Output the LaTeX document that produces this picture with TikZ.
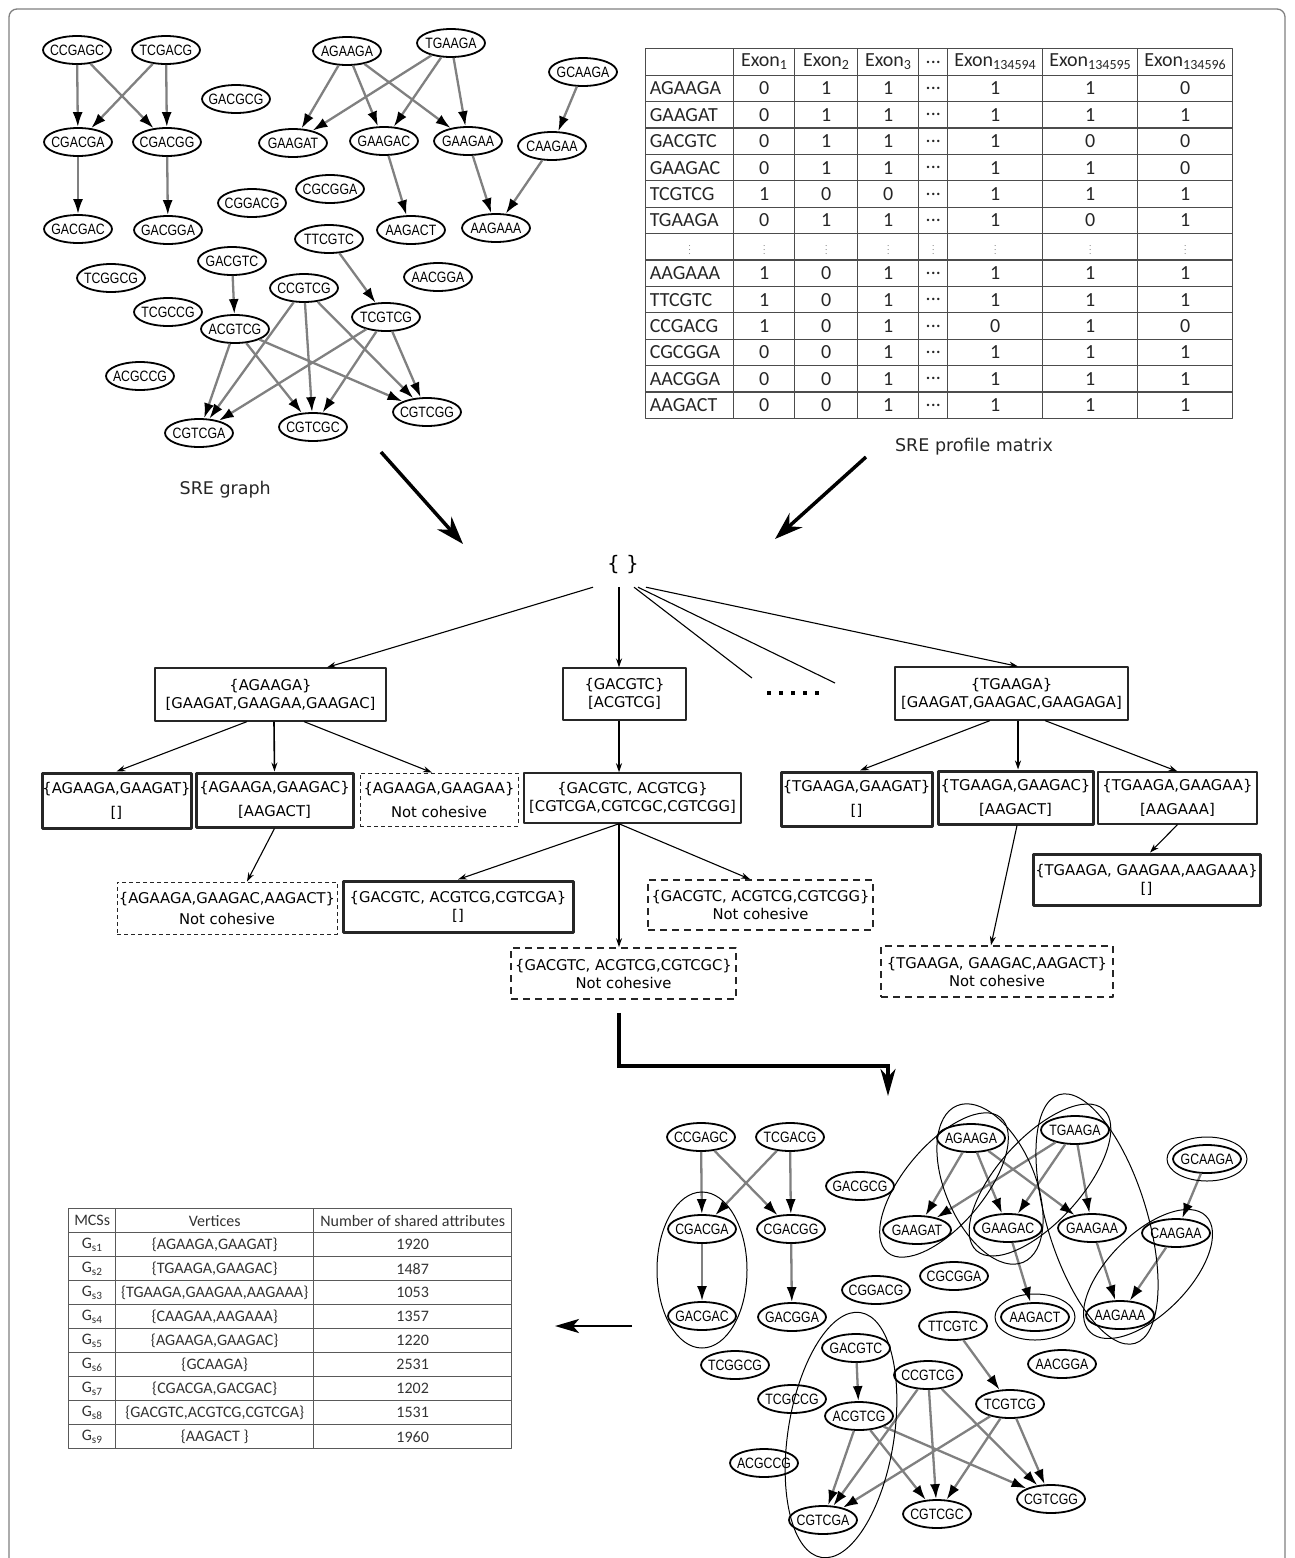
\documentclass[tikz,border=0pt]{standalone}
\usepackage{fontspec}
\setmainfont{DejaVu Sans}
\newfontfamily\grfont[FakeStretch=0.82]{Liberation Sans}
\newfontfamily\tabfont{Carlito}
\usetikzlibrary{arrows.meta,matrix,shapes.geometric}
\newcommand\vd{{\scriptsize$\vdots$}}

\begin{document}
\begin{tikzpicture}[x=1pt, y=-1pt, line join=round, >=Stealth,
  font=\fontsize{14.8}{18}\selectfont,
  sre/.style={draw, ellipse, line width=1.8, inner xsep=-6pt, inner ysep=0pt, minimum width=68, minimum height=28, font=\grfont\fontsize{15}{15}\selectfont},
  sreedge/.style={draw=gray, line width=2.3, -{Latex[length=15pt,width=10pt,color=black]}},
  clus/.style={draw, line width=1},
  tbox/.style={draw=black!85, line width=1.2, align=center, inner sep=0pt},
  mcsbox/.style={tbox, line width=3},
  nocoh/.style={tbox, line width=0.9, dash pattern=on 4pt off 3pt},
  nocohb/.style={tbox, line width=1.7, dash pattern=on 7pt off 5pt},
  tarr/.style={line width=1.1, -{Stealth[length=9pt,width=6pt]}},
  bigarr/.style={line width=3.5, -{Stealth[length=28pt,width=19pt,inset=9pt]}},
  lbl/.style={font=\fontsize{17.5}{20}\selectfont, text=black!85, inner sep=0pt}]
\useasboundingbox (0,0) rectangle (1294,1558);
\clip (0,0) rectangle (1294,1558);
\draw[gray, line width=1.3, rounded corners=8] (9,9) rectangle (1285,1590);

% SRE graph, drawn twice (input and result)
\foreach \pre/\dx/\dy in {a/0/0,b/624/1087}{
\begin{scope}[shift={(\dx,\dy)}, name prefix=\pre-]
\foreach \nm/\px/\py in {CCGAGC/77/50, TCGACG/166/50, AGAAGA/347/51, TGAAGA/451/43,
  GCAAGA/583/72, GACGCG/236/99, CGACGA/78/142, CGACGG/167/142, GAAGAT/293/143,
  GAAGAC/384/141, GAAGAA/468/141, CAAGAA/552/146, CGCGGA/330/189, CGGACG/252/203,
  GACGAC/78/229, GACGGA/168/230, AAGACT/411/230, AAGAAA/496/228, TTCGTC/329/239,
  GACGTC/232/261, AACGGA/438/277, TCGGCG/111/278, CCGTCG/304/288, TCGCCG/168/312,
  TCGTCG/386/317, ACGTCG/235/329, ACGCCG/140/376, CGTCGG/427/412, CGTCGC/313/427,
  CGTCGA/199/433}
  \node[sre] (\nm) at (\px,\py) {\nm};
\foreach \ea/\eb in {CCGAGC/CGACGA, CCGAGC/CGACGG, TCGACG/CGACGA, TCGACG/CGACGG,
  CGACGA/GACGAC, CGACGG/GACGGA, AGAAGA/GAAGAT, AGAAGA/GAAGAC, AGAAGA/GAAGAA,
  TGAAGA/GAAGAT, TGAAGA/GAAGAC, TGAAGA/GAAGAA, GAAGAC/AAGACT, GAAGAA/AAGAAA,
  GCAAGA/CAAGAA, CAAGAA/AAGAAA, TTCGTC/TCGTCG, GACGTC/ACGTCG,
  ACGTCG/CGTCGA, ACGTCG/CGTCGC, ACGTCG/CGTCGG, CCGTCG/CGTCGA, CCGTCG/CGTCGC,
  CCGTCG/CGTCGG, TCGTCG/CGTCGA, TCGTCG/CGTCGC, TCGTCG/CGTCGG}
  \draw[sreedge] (\ea) -- (\eb);
\end{scope}
}
\node[lbl, anchor=east] (grlbl) at (271,490) {SRE graph};

% maximal cohesive subgraphs
\draw[clus] (702,1270) ellipse [x radius=45pt, y radius=78pt];
\draw[clus] (1207,1159) ellipse [x radius=40pt, y radius=22pt];
\draw[clus] (1035,1317) ellipse [x radius=40pt, y radius=23pt];
\draw[clus, shift={(841,1435)}, rotate=81] (0,0) ellipse [x radius=124pt, y radius=53pt];
\draw[clus, shift={(990,1184)}, rotate=-67] (0,0) ellipse [x radius=85pt, y radius=45pt];
\draw[clus, shift={(944,1185)}, rotate=50] (0,0) ellipse [x radius=88pt, y radius=40pt];
\draw[clus, shift={(1040,1180)}, rotate=48] (0,0) ellipse [x radius=95pt, y radius=42pt];
\draw[clus, shift={(1097,1219)}, rotate=-73] (0,0) ellipse [x radius=130pt, y radius=50pt];
\draw[clus, shift={(1148,1274)}, rotate=45] (0,0) ellipse [x radius=82pt, y radius=40pt];

% profile matrix
\matrix (prof) [matrix of nodes, anchor=north west, inner sep=0pt, row sep=-1.2pt, column sep=-1.2pt,
  nodes={draw=black!70, line width=1.2, inner sep=0pt, outer sep=0pt, minimum height=26.4, anchor=center, text=black!85, font=\tabfont\fontsize{20}{22}\selectfont},
  column 1/.style={nodes={text width=80, inner xsep=4, align=left}},
  column 2/.style={nodes={minimum width=61}},
  column 3/.style={nodes={minimum width=63}},
  column 4/.style={nodes={minimum width=61}},
  column 5/.style={nodes={minimum width=29}},
  column 6/.style={nodes={minimum width=95}},
  column 7/.style={nodes={minimum width=95}},
  column 8/.style={nodes={minimum width=95}}] at (645,48) {
\phantom{A} & Exon\textsubscript{1} & Exon\textsubscript{2} & Exon\textsubscript{3} & ... & Exon\textsubscript{134594} & Exon\textsubscript{134595} & Exon\textsubscript{134596} \\
AGAAGA & 0 & 1 & 1 & ... & 1 & 1 & 0 \\
GAAGAT & 0 & 1 & 1 & ... & 1 & 1 & 1 \\
GACGTC & 0 & 1 & 1 & ... & 1 & 0 & 0 \\
GAAGAC & 0 & 1 & 1 & ... & 1 & 1 & 0 \\
TCGTCG & 1 & 0 & 0 & ... & 1 & 1 & 1 \\
TGAAGA & 0 & 1 & 1 & ... & 1 & 0 & 1 \\
\hfil\vd\hfil & \vd & \vd & \vd & \vd & \vd & \vd & \vd \\
AAGAAA & 1 & 0 & 1 & ... & 1 & 1 & 1 \\
TTCGTC & 1 & 0 & 1 & ... & 1 & 1 & 1 \\
CCGACG & 1 & 0 & 1 & ... & 0 & 1 & 0 \\
CGCGGA & 0 & 0 & 1 & ... & 1 & 1 & 1 \\
AACGGA & 0 & 0 & 1 & ... & 1 & 1 & 1 \\
AAGACT & 0 & 0 & 1 & ... & 1 & 1 & 1 \\
};
\node[lbl] (mxlbl) at (974,447) {SRE profile matrix};

\coordinate (grOut) at (381,452);
\coordinate (grIn) at (463,544);
\coordinate (mxOut) at (866,457);
\coordinate (mxIn) at (775,539);
\draw[bigarr] (grOut) -- (grIn);
\draw[bigarr] (mxOut) -- (mxIn);

% enumeration tree
\node[inner sep=0pt, minimum height=44, font=\fontsize{20}{20}\selectfont] (root) at (623,565) {\{ \}};
\node[tbox, minimum width=231, minimum height=53] (nA) at (270.5,694.5) {\{AGAAGA\}\\{}[GAAGAT,GAAGAA,GAAGAC]};
\node[tbox, minimum width=123, minimum height=52] (nG) at (624.5,694) {\{GACGTC\}\\{}[ACGTCG]};
\node[tbox, minimum width=233, minimum height=53] (nT) at (1011.5,693.5) {\{TGAAGA\}\\{}[GAAGAT,GAAGAC,GAAGAGA]};
\node[mcsbox, minimum width=149, minimum height=55] (nA1) at (116.5,800.5) {\{AGAAGA,GAAGAT\}\\[6pt]{[]}};
\node[mcsbox, minimum width=157, minimum height=54] (nA2) at (274.5,800) {\{AGAAGA,GAAGAC\}\\[6pt]{[AAGACT]}};
\node[nocoh, minimum width=158, minimum height=53] (nA3) at (439,799.5) {\{AGAAGA,GAAGAA\}\\[6pt]Not cohesive};
\node[nocoh, minimum width=220, minimum height=52] (nA4) at (227,908) {\{AGAAGA,GAAGAC,AAGACT\}\\[3pt]Not cohesive};
\node[tbox, line width=1.5, minimum width=217, minimum height=50] (nG2) at (632.5,798) {\{GACGTC, ACGTCG\}\\{}[CGTCGA,CGTCGC,CGTCGG]};
\node[mcsbox, minimum width=230, minimum height=51] (nG3) at (458,906.5) {\{GACGTC, ACGTCG,CGTCGA\}\\{[]}};
\node[nocohb, minimum width=225, minimum height=51] (nG4) at (623.5,973.5) {\{GACGTC, ACGTCG,CGTCGC\}\\Not cohesive};
\node[nocohb, minimum width=225, minimum height=50] (nG5) at (760.5,905) {\{GACGTC, ACGTCG,CGTCGG\}\\Not cohesive};
\node[mcsbox, minimum width=151, minimum height=54] (nT1) at (856.5,799) {\{TGAAGA,GAAGAT\}\\[6pt]{[]}};
\node[mcsbox, minimum width=155, minimum height=53] (nT2) at (1015.5,797.5) {\{TGAAGA,GAAGAC\}\\[6pt]{[AAGACT]}};
\node[tbox, minimum width=159, minimum height=52] (nT3) at (1177.5,798) {\{TGAAGA,GAAGAA\}\\[6pt]{[AAGAAA]}};
\node[nocohb, minimum width=232, minimum height=51] (nT4) at (997,971.5) {\{TGAAGA, GAAGAC,AAGACT\}\\Not cohesive};
\node[mcsbox, minimum width=227, minimum height=51] (nT5) at (1146.5,879.5) {\{TGAAGA, GAAGAA,AAGAAA\}\\{[]}};

\coordinate (dotsA) at (752,678);
\coordinate (dotsB) at (835,683);
\draw[tarr] ([xshift=-30]root.south) -- ([xshift=56.5]nA.north);
\draw[tarr, line width=1.6] ([xshift=-4]root.south) -- ([xshift=-5.5]nG.north);
\draw[line width=1.1] ([xshift=11]root.south) -- (dotsA);
\draw[line width=1.1] ([xshift=15]root.south) -- (dotsB);
\draw[tarr] ([xshift=23]root.south) -- ([xshift=6.5]nT.north);
\foreach \i in {0,...,4} \fill (767+12*\i,691) rectangle ++(4,4);
\draw[tarr] ([xshift=-23.5]nA.south) -- (nA1.north);
\draw[tarr, line width=1.6] ([xshift=3.5]nA.south) -- (nA2.north);
\draw[tarr] ([xshift=33.5]nA.south) -- ([xshift=-7]nA3.north);
\draw[tarr] (nA2.south) -- ([xshift=20]nA4.north);
\draw[tarr, line width=1.4] ([xshift=-5.5]nG.south) -- ([xshift=-13.5]nG2.north);
\draw[tarr] ([xshift=-13.5]nG2.south) -- (nG3.north);
\draw[tarr, line width=1.4] ([xshift=-13.5]nG2.south) -- ([xshift=-4.5]nG4.north);
\draw[tarr] ([xshift=-13.5]nG2.south) -- ([xshift=-10.5]nG5.north);
\draw[tarr] ([xshift=-21.5]nT.south) -- ([xshift=3.5]nT1.north);
\draw[tarr, line width=1.6] ([xshift=6.5]nT.south) -- ([xshift=2.5]nT2.north);
\draw[tarr] ([xshift=33.5]nT.south) -- (nT3.north);
\draw[tarr] ([xshift=1.5]nT2.south) -- ([xshift=-6]nT4.north);
\draw[tarr] (nT3.south) -- ([xshift=3.5]nT5.north);

\coordinate (resIn) at (888,1096);
\draw[line width=3.5, line join=miter, -{Stealth[length=27pt,width=15pt,inset=8pt]}, shorten <=13pt] ([xshift=-4.5]nG4.south) -- ++(0,66) -| (resIn);

% table of the subgraphs found
\matrix (mcs) [matrix of nodes, anchor=north west, inner sep=0pt, row sep=-1pt, column sep=-1pt,
  nodes={draw=black!65, line width=1, inner sep=0pt, outer sep=0pt, minimum height=24, anchor=center, text=black!80, font=\tabfont\fontsize{16}{18}\selectfont},
  column 1/.style={nodes={minimum width=47}},
  column 2/.style={nodes={minimum width=198}},
  column 3/.style={nodes={minimum width=198}}] at (68,1208) {
MCSs & Vertices & Number of shared attributes \\
G\textsubscript{s1} & \{AGAAGA,GAAGAT\} & 1920 \\
G\textsubscript{s2} & \{TGAAGA,GAAGAC\} & 1487 \\
G\textsubscript{s3} & \{TGAAGA,GAAGAA,AAGAAA\} & 1053 \\
G\textsubscript{s4} & \{CAAGAA,AAGAAA\} & 1357 \\
G\textsubscript{s5} & \{AGAAGA,GAAGAC\} & 1220 \\
G\textsubscript{s6} & \{GCAAGA\} & 2531 \\
G\textsubscript{s7} & \{CGACGA,GACGAC\} & 1202 \\
G\textsubscript{s8} & \{GACGTC,ACGTCG,CGTCGA\} & 1531 \\
G\textsubscript{s9} & \{AAGACT \} & 1960 \\
};
\coordinate (lfOut) at (632,1326);
\coordinate (lfIn) at (555,1326);
\draw[line width=2.6, -{Stealth[length=24pt,width=14pt,inset=6pt]}] (lfOut) -- (lfIn);
\end{tikzpicture}
\end{document}
